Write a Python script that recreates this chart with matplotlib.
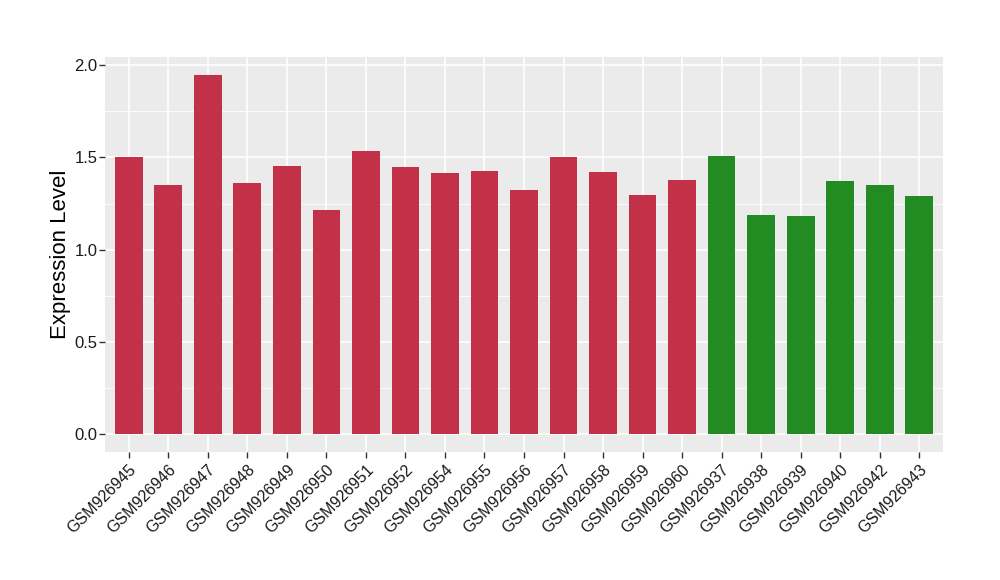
import matplotlib
matplotlib.use("Agg")
import matplotlib.pyplot as plt
import numpy as np

plt.rcParams['font.family'] = ['Liberation Sans', 'DejaVu Sans']

# samples, expression values and group colour
samples = ["GSM926945", "GSM926946", "GSM926947", "GSM926948", "GSM926949",
           "GSM926950", "GSM926951", "GSM926952", "GSM926954", "GSM926955",
           "GSM926956", "GSM926957", "GSM926958", "GSM926959", "GSM926960",
           "GSM926937", "GSM926938", "GSM926939", "GSM926940", "GSM926942",
           "GSM926943"]
values = [1.502, 1.350, 1.947, 1.361, 1.453, 1.215, 1.535, 1.448, 1.415, 1.426,
          1.323, 1.502, 1.421, 1.296, 1.377, 1.508, 1.188, 1.182, 1.372, 1.350,
          1.291]
groups = ["a"] * 15 + ["b"] * 6
group_colors = {"a": "#C33149", "b": "#228B22"}

fig = plt.figure(figsize=(10, 5.8), dpi=100)
ax = fig.add_axes([0.105, 0.2207, 0.838, 0.681])
ax.set_facecolor("#EBEBEB")

x = np.arange(len(samples))
ax.bar(x, values, width=0.7, color=[group_colors[g] for g in groups], zorder=3)

ymax = max(values)
ax.set_xlim(-0.6, len(samples) - 0.4)
ax.set_ylim(-0.05 * ymax, ymax * 1.05)

ax.set_yticks([0.0, 0.5, 1.0, 1.5, 2.0])
ax.set_yticklabels(["0.0", "0.5", "1.0", "1.5", "2.0"])
ax.set_yticks([0.25, 0.75, 1.25, 1.75], minor=True)
ax.set_xticks(x)
ax.set_xticklabels(samples, rotation=45, ha="right", rotation_mode="anchor")

ax.grid(which="major", color="white", linewidth=1.2, zorder=0)
ax.grid(which="minor", axis="y", color="white", linewidth=0.6, zorder=0)
ax.set_axisbelow(True)

for s in ax.spines.values():
    s.set_visible(False)

ax.tick_params(axis="both", which="major", length=4, width=1, color="#333333",
               labelcolor="#1A1A1A")
ax.tick_params(axis="y", which="minor", length=0)
ax.tick_params(axis="y", labelsize=12, pad=1.5)
ax.tick_params(axis="x", labelsize=11.5, pad=3)

ax.set_ylabel("Expression Level", fontsize=16, labelpad=2)

fig.savefig("out.png", dpi=100)
